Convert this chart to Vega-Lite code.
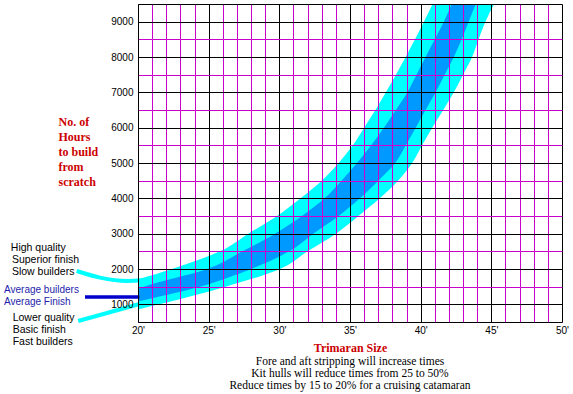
{
  "$schema": "https://vega.github.io/schema/vega-lite/v6.json",
  "width": 424,
  "height": 318,
  "autosize": "none",
  "padding": {"left": 138, "top": 4, "right": 11, "bottom": 72},
  "background": "white",
  "config": {"view": {"stroke": null}},
  "title": {
    "text": ["Fore and aft stripping will increase times", "Kit hulls will reduce times from 25 to  50%", "Reduce times by 15 to 20% for a cruising catamaran"],
    "orient": "bottom",
    "anchor": "middle",
    "frame": "group",
    "font": "Liberation Serif",
    "fontSize": 11.5,
    "fontWeight": "normal",
    "color": "black",
    "lineHeight": 12,
    "offset": 2.5
  },
  "datasets": {
    "outer": [
      {"v": 500, "x": 14.0, "x2": 16.1},
      {"v": 1000, "x": 16.5, "x2": 21.5},
      {"v": 1500, "x": 18.5, "x2": 26.2},
      {"v": 2000, "x": 22.4, "x2": 30.05},
      {"v": 2500, "x": 25.8, "x2": 32.0},
      {"v": 3000, "x": 27.8, "x2": 34.0},
      {"v": 3500, "x": 29.85, "x2": 35.6},
      {"v": 4000, "x": 31.5, "x2": 37.1},
      {"v": 4500, "x": 33.0, "x2": 38.4},
      {"v": 5000, "x": 34.2, "x2": 39.4},
      {"v": 5500, "x": 35.2, "x2": 40.1},
      {"v": 6000, "x": 36.0, "x2": 40.82},
      {"v": 6500, "x": 36.8, "x2": 41.6},
      {"v": 7000, "x": 37.54, "x2": 42.35},
      {"v": 7500, "x": 38.25, "x2": 43.0},
      {"v": 8000, "x": 38.94, "x2": 43.64},
      {"v": 8500, "x": 39.6, "x2": 44.1},
      {"v": 9000, "x": 40.23, "x2": 44.58},
      {"v": 9500, "x": 40.85, "x2": 45.2}
    ],
    "inner": [
      {"v": 500, "x": 15.0, "x2": 16.0},
      {"v": 1000, "x": 17.5, "x2": 19.3},
      {"v": 1500, "x": 20.4, "x2": 24.4},
      {"v": 2000, "x": 24.9, "x2": 28.0},
      {"v": 2500, "x": 27.4, "x2": 30.7},
      {"v": 3000, "x": 29.7, "x2": 32.4},
      {"v": 3500, "x": 31.6, "x2": 34.2},
      {"v": 4000, "x": 33.2, "x2": 35.7},
      {"v": 4500, "x": 34.4, "x2": 37.0},
      {"v": 5000, "x": 35.5, "x2": 38.2},
      {"v": 5500, "x": 36.5, "x2": 38.95},
      {"v": 6000, "x": 37.4, "x2": 39.65},
      {"v": 6500, "x": 38.25, "x2": 40.35},
      {"v": 7000, "x": 39.06, "x2": 41.06},
      {"v": 7500, "x": 39.7, "x2": 41.7},
      {"v": 8000, "x": 40.35, "x2": 42.35},
      {"v": 8500, "x": 41.0, "x2": 42.9},
      {"v": 9000, "x": 41.64, "x2": 43.4},
      {"v": 9500, "x": 42.2, "x2": 43.9}
    ],
    "lines": [
      {"s": "hi", "x": 15.66, "v": 1943},
      {"s": "hi", "x": 17.31, "v": 1756},
      {"s": "hi", "x": 19.2, "v": 1662},
      {"s": "hi", "x": 20.4, "v": 1680},
      {"s": "lo", "x": 15.77, "v": 527},
      {"s": "lo", "x": 20.3, "v": 1030},
      {"s": "avg", "x": 16.25, "v": 1207},
      {"s": "avg", "x": 20.1, "v": 1207}
    ],
    "notes": [
      {"k": "q", "x": 11.0, "v": 2600, "t": "High quality"},
      {"k": "q", "x": 11.08, "v": 2250, "t": "Superior finish"},
      {"k": "q", "x": 11.08, "v": 1910, "t": "Slow builders"},
      {"k": "avg", "x": 10.52, "v": 1410, "t": "Average builders"},
      {"k": "avg", "x": 10.52, "v": 1080, "t": "Average Finish"},
      {"k": "q", "x": 11.13, "v": 600, "t": "Lower quality"},
      {"k": "q", "x": 11.13, "v": 270, "t": "Basic finish"},
      {"k": "q", "x": 11.13, "v": -70, "t": "Fast builders"}
    ]
  },
  "encoding": {
    "y": {
      "field": "v", "type": "quantitative",
      "scale": {"domain": [500, 9500], "nice": false, "zero": false},
      "axis": {
        "values": [500, 1000, 1500, 2000, 2500, 3000, 3500, 4000, 4500, 5000, 5500, 6000, 6500, 7000, 7500, 8000, 8500, 9000, 9500],
        "labelExpr": "datum.value % 1000 === 0 ? '' + datum.value : ''",
        "ticks": false,
        "grid": true,
        "gridColor": {"condition": {"test": "datum.value % 1000 === 0 || datum.value === 9500", "value": "black"}, "value": "#cc00cc"},
        "gridWidth": 1,
        "gridOpacity": 1,
        "domainColor": "black",
        "labelFont": "Liberation Sans",
        "labelFontSize": 10,
        "labelColor": "black",
        "labelPadding": 5,
        "labelOverlap": false,
        "labelBound": false,
        "labelFlush": false,
        "zindex": 1,
        "title": ["No. of", "Hours", "to build", "from", "scratch"],
        "titleAngle": 0,
        "titleAlign": "left",
        "titleBaseline": "alphabetic",
        "titleX": -80,
        "titleY": 121.5,
        "titleFont": "Liberation Serif",
        "titleFontSize": 12,
        "titleFontWeight": "bold",
        "titleColor": "#cc0000",
        "titleLineHeight": 15
      }
    },
    "x": {
      "field": "x", "type": "quantitative",
      "scale": {"domain": [20, 50], "nice": false, "zero": false},
      "axis": {
        "values": [20, 21, 22, 23, 24, 25, 26, 27, 28, 29, 30, 31, 32, 33, 34, 35, 36, 37, 38, 39, 40, 41, 42, 43, 44, 45, 46, 47, 48, 49, 50],
        "labelExpr": "datum.value % 5 === 0 ? datum.value + \"'\" : ''",
        "ticks": false,
        "grid": true,
        "gridColor": {"condition": {"test": "datum.value % 5 === 0", "value": "black"}, "value": "#cc00cc"},
        "gridWidth": 1,
        "gridOpacity": 1,
        "domainColor": "black",
        "labelFont": "Liberation Sans",
        "labelFontSize": 10,
        "labelColor": "black",
        "labelPadding": 3,
        "labelOverlap": false,
        "labelBound": false,
        "labelFlush": false,
        "zindex": 1,
        "title": "Trimaran Size",
        "titleX": 212,
        "titleY": 29,
        "titleBaseline": "alphabetic",
        "titleFont": "Liberation Serif",
        "titleFontSize": 12,
        "titleFontWeight": "bold",
        "titleColor": "#cc0000"
      }
    }
  },
  "layer": [
    {
      "data": {"name": "outer"},
      "mark": {"type": "area", "orient": "horizontal", "clip": true, "color": "#00ffff", "interpolate": "monotone"},
      "encoding": {"x2": {"field": "x2"}}
    },
    {
      "data": {"name": "inner"},
      "mark": {"type": "area", "orient": "horizontal", "clip": true, "color": "#0099ff", "interpolate": "monotone"},
      "encoding": {"x2": {"field": "x2"}}
    },
    {
      "data": {"name": "lines"},
      "transform": [{"filter": "datum.s === 'hi'"}],
      "mark": {"type": "line", "clip": false, "color": "#00ffff", "strokeWidth": 4, "interpolate": "monotone"},
      "encoding": {}
    },
    {
      "data": {"name": "lines"},
      "transform": [{"filter": "datum.s === 'lo'"}],
      "mark": {"type": "line", "clip": false, "color": "#00ffff", "strokeWidth": 4},
      "encoding": {}
    },
    {
      "data": {"name": "lines"},
      "transform": [{"filter": "datum.s === 'avg'"}],
      "mark": {"type": "line", "clip": false, "color": "#0000cc", "strokeWidth": 3.5},
      "encoding": {}
    },
    {
      "data": {"name": "notes"},
      "transform": [{"filter": "datum.k === 'q'"}],
      "mark": {"type": "text", "clip": false, "align": "left", "baseline": "middle", "font": "Liberation Sans", "fontSize": 10.5, "color": "black"},
      "encoding": {"text": {"field": "t"}}
    },
    {
      "data": {"name": "notes"},
      "transform": [{"filter": "datum.k === 'avg'"}],
      "mark": {"type": "text", "clip": false, "align": "left", "baseline": "middle", "font": "Liberation Sans", "fontSize": 10, "color": "#1e1eaa"},
      "encoding": {"text": {"field": "t"}}
    }
  ]
}
